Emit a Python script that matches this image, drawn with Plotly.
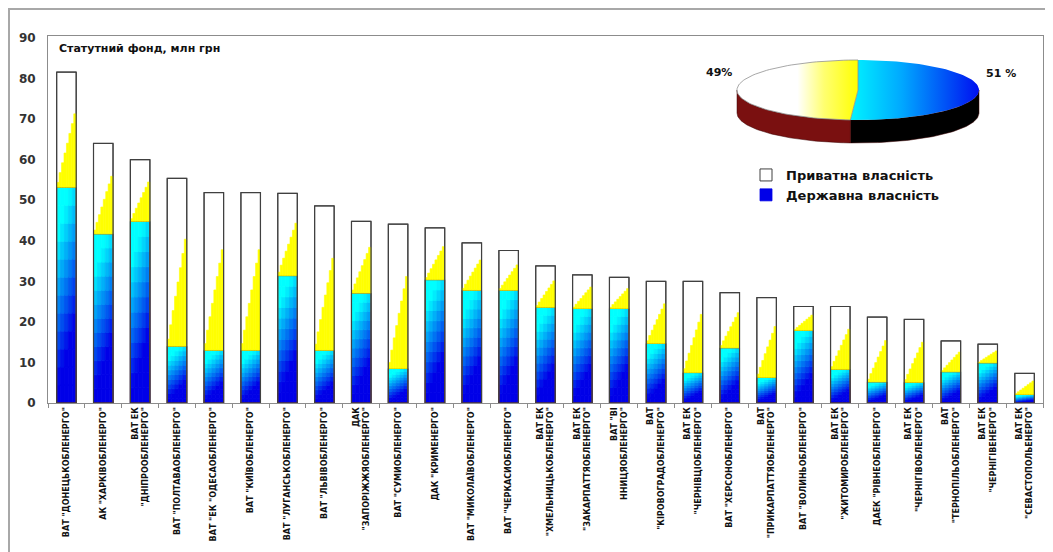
import numpy as np
import plotly.graph_objects as go

# ---------------- data ----------------
companies = [
    'ВАТ "ДОНЕЦЬКОБЛЕНЕРГО"',
    'АК "ХАРКІВОБЛЕНЕРГО"',
    'ВАТ ЕК<br>"ДНІПРООБЛЕНЕРГО"',
    'ВАТ "ПОЛТАВАОБЛЕНЕРГО"',
    'ВАТ "ЕК "ОДЕСАОБЛЕНЕРГО"',
    'ВАТ "КИЇВОБЛЕНЕРГО"',
    'ВАТ "ЛУГАНСЬКОБЛЕНЕРГО"',
    'ВАТ "ЛЬВІВОБЛЕНЕРГО"',
    'ДАК<br>"ЗАПОРІЖЖЯОБЛЕНЕРГО"',
    'ВАТ "СУМИОБЛЕНЕРГО"',
    'ДАК "КРИМЕНЕРГО"',
    'ВАТ "МИКОЛАЇВОБЛЕНЕРГО"',
    'ВАТ "ЧЕРКАСИОБЛЕНЕРГО"',
    'ВАТ ЕК<br>"ХМЕЛЬНИЦЬКОБЛЕНЕРГО"',
    'ВАТ ЕК<br>"ЗАКАРПАТТЯОБЛЕНЕРГО"',
    'ВАТ "ВІ<br>ННИЦЯОБЛЕНЕРГО"',
    'ВАТ<br>"КІРОВОГРАДОБЛЕНЕРГО"',
    'ВАТ ЕК<br>"ЧЕРНІВЦІОБЛЕНЕРГО"',
    'ВАТ "ХЕРСОНОБЛЕНЕРГО"',
    'ВАТ<br>"ПРИКАРПАТТЯОБЛЕНЕРГО"',
    'ВАТ "ВОЛИНЬОБЛЕНЕРГО"',
    'ВАТ ЕК<br>"ЖИТОМИРОБЛЕНЕРГО"',
    'ДАЕК "РІВНЕОБЛЕНЕРГО"',
    'ВАТ ЕК<br>"ЧЕРНІГІВОБЛЕНЕРГО"',
    'ВАТ<br>"ТЕРНОПІЛЬОБЛЕНЕРГО"',
    'ВАТ ЕК<br>"ЧЕРНІГІВЕНЕРГО"',
    'ВАТ ЕК<br>"СЕВАСТОПОЛЬЕНЕРГО"',
]
total_fund = [81.6, 64.0, 60.0, 55.4, 51.9, 51.9, 51.7, 48.6, 44.8, 44.1, 43.2, 39.5, 37.6, 33.8,
              31.6, 31.0, 30.0, 30.0, 27.2, 26.0, 23.8, 23.8, 21.2, 20.6, 15.3, 14.5, 7.3]
state_fund = [53.2, 41.7, 44.8, 14.0, 13.0, 13.0, 31.4, 13.0, 27.1, 8.5, 30.4, 27.8, 27.8, 23.6,
              23.3, 23.3, 14.7, 7.5, 13.6, 6.3, 17.9, 8.3, 5.2, 5.1, 7.7, 9.9, 2.1]
series_names = ["Приватна власність", "Державна власність"]
pie_shares = [49, 51]           # private, state (%)
y_ticks = [0, 10, 20, 30, 40, 50, 60, 70, 80, 90]
chart_title = "Статутний фонд, млн грн"

# ---------------- geometry helpers (window pixels; page body has 8px margin) ----------------
OFF = 8
FIG_W, FIG_H = 1053 - OFF, 552 - OFF
PL, PR, PT, PB = 48, 1043, 36, 403      # plot area in window pixels
L, R, T, B = PL - OFF, FIG_W - (PR - OFF), PT - OFF, FIG_H - (PB - OFF)
PW, PH = PR - PL, PB - PT


def px_x(p):
    return (p - PL) / PW


def px_y(p):
    return (PB - p) / PH


# ---------------- styling ----------------
FONT = "DejaVu Sans, Liberation Sans, Arial, sans-serif"
W = 0.53
tot = np.array(total_fund)
st = np.array(state_fund)
pr = tot - st

fig = go.Figure()

# white private background (legend item)
fig.add_bar(x=companies, y=tot, base=0, width=W, name=series_names[0], legendrank=1,
            marker=dict(color="white", line=dict(color="#404040", width=1)),
            hoverinfo="skip")

# state part: diagonal cyan -> blue gradient built from slices
NX, NY = 5, 12
cyan = np.array([0, 255, 255])
blue = np.array([0, 0, 232])
for j in range(NY):
    for k in range(NX):
        xf = (k + 0.5) / NX
        yf = (j + 0.5) / NY
        t = float(np.clip(1.6 * (0.3 * xf + 0.9 * (1 - yf)) - 0.35, 0, 1))
        c = cyan + (blue - cyan) * t
        col = "rgb(%d,%d,%d)" % tuple(c.round().astype(int))
        leg = (j == 1 and k == 1)
        fig.add_bar(x=companies, y=st / NY, base=st * j / NY, width=W / NX,
                    offset=-W / 2 + k * W / NX,
                    marker=dict(color=col, line=dict(width=0.8, color=col)),
                    name=series_names[1], showlegend=leg, legendrank=2,
                    hoverinfo="skip")

# thin boundary at state top
fig.add_bar(x=companies, y=st, base=0, width=W, showlegend=False, hoverinfo="skip",
            marker=dict(color="rgba(0,0,0,0)", line=dict(color="#8a3a10", width=1)))

# private part: yellow triangle (staircase of slices)
NYL = 8
for k in range(NYL):
    fig.add_bar(x=companies, y=pr * 0.68 * (k + 0.5) / NYL, base=st, width=W / NYL,
                offset=-W / 2 + k * W / NYL,
                marker=dict(color="#ffff00", line=dict(width=0.6, color="#ffff00")),
                showlegend=False, hoverinfo="skip")

# outline on top
fig.add_bar(x=companies, y=tot, base=0, width=W, showlegend=False, hoverinfo="skip",
            marker=dict(color="rgba(0,0,0,0)", line=dict(color="#404040", width=1.2)))

# ---------------- 3D-looking pie ----------------
cx, cy, rx, ry, depth = 858, -90, 121, 30, 23
fr = np.array(pie_shares, dtype=float) / sum(pie_shares)
a_split = 90 - 360 * fr[1]


def edge(a0, a1, n=80, dy=0.0):
    th = np.radians(np.linspace(a0, a1, n))
    return cx + rx * np.cos(th), cy + ry * np.sin(th) + dy


# sides (front half only)
for a0, a1, col in [(0, a_split, "#000000"), (a_split, -180, "#7a1010")]:
    xt, yt = edge(a0, a1)
    xb, yb = edge(a0, a1, dy=-depth)
    fig.add_scatter(x=np.r_[xt, xb[::-1], xt[:1]], y=np.r_[yt, yb[::-1], yt[:1]],
                    xaxis="x2", yaxis="y2", mode="lines", fill="toself",
                    fillcolor=col, line=dict(color="#3a0000", width=0.5),
                    showlegend=False, hoverinfo="skip")

# top faces
xs, ys = edge(90, a_split)
fig.add_scatter(x=np.r_[cx, xs, cx], y=np.r_[cy, ys, cy], xaxis="x2", yaxis="y2",
                mode="lines", fill="toself", line=dict(width=0, color="#0030ff"),
                fillgradient=dict(type="horizontal",
                                  colorscale=[[0, "#00f4ff"], [0.4, "#00a8ff"], [1, "#0010f0"]]),
                showlegend=False, hoverinfo="skip")
xp, yp = edge(a_split, -270)
fig.add_scatter(x=np.r_[cx, xp, cx], y=np.r_[cy, yp, cy], xaxis="x2", yaxis="y2",
                mode="lines", fill="toself", line=dict(width=0.8, color="#909090"),
                fillgradient=dict(type="horizontal",
                                  colorscale=[[0, "#ffffff"], [0.5, "#ffffff"], [0.72, "#ffff70"], [1, "#ffff00"]]),
                showlegend=False, hoverinfo="skip")

annotations = [
    dict(text=chart_title, xref="paper", yref="paper", x=px_x(57), y=px_y(48),
         xanchor="left", yanchor="middle", showarrow=False,
         font=dict(family=FONT, size=11, color="#111", weight="bold")),
    dict(text=f"{pie_shares[0]}%", xref="x2", yref="y2", x=719, y=-72, showarrow=False,
         font=dict(family=FONT, size=11, color="#111", weight="bold")),
    dict(text=f"{pie_shares[1]} %", xref="x2", yref="y2", x=1001, y=-73, showarrow=False,
         font=dict(family=FONT, size=11, color="#111", weight="bold")),
]

shapes = [
    dict(type="rect", xref="paper", yref="paper", x0=px_x(9), x1=px_x(1047),
         y0=px_y(560), y1=px_y(9), line=dict(color="#a8a8a8", width=2),
         fillcolor="rgba(0,0,0,0)"),
]

fig.update_layout(
    width=FIG_W, height=FIG_H,
    margin=dict(l=L, r=R, t=T, b=B, autoexpand=False),
    barmode="overlay",
    paper_bgcolor="white", plot_bgcolor="white",
    font=dict(family=FONT, color="#111"),
    showlegend=True,
    legend=dict(x=px_x(746), y=px_y(160), xanchor="left", yanchor="top",
                bgcolor="rgba(0,0,0,0)", itemwidth=30, tracegroupgap=2,
                font=dict(family=FONT, size=13, color="#111", weight="bold")),
    xaxis=dict(type="category", showgrid=False, showline=True, linecolor="#8c8c8c",
               linewidth=1, mirror=True, ticks="outside", tickson="boundaries",
               ticklen=4, tickcolor="#8c8c8c", tickangle=-90,
               tickfont=dict(family=FONT, size=8, color="#111", weight="bold"),
               range=[-0.5, len(companies) - 0.5]),
    yaxis=dict(range=[0, 90.5], tickvals=y_ticks, showgrid=False, zeroline=False,
               showline=True, linecolor="#8c8c8c", mirror=True, ticks="",
               ticklabelstandoff=9,
               tickfont=dict(family=FONT, size=12, color="#333", weight="bold")),
    xaxis2=dict(domain=[px_x(700), px_x(1030)], range=[700, 1030], visible=False,
                anchor="y2", fixedrange=True),
    yaxis2=dict(domain=[px_y(150), px_y(50)], range=[-150, -50], visible=False,
                anchor="x2", fixedrange=True),
    annotations=annotations,
    shapes=shapes,
)

fig.write_html("out.html")
